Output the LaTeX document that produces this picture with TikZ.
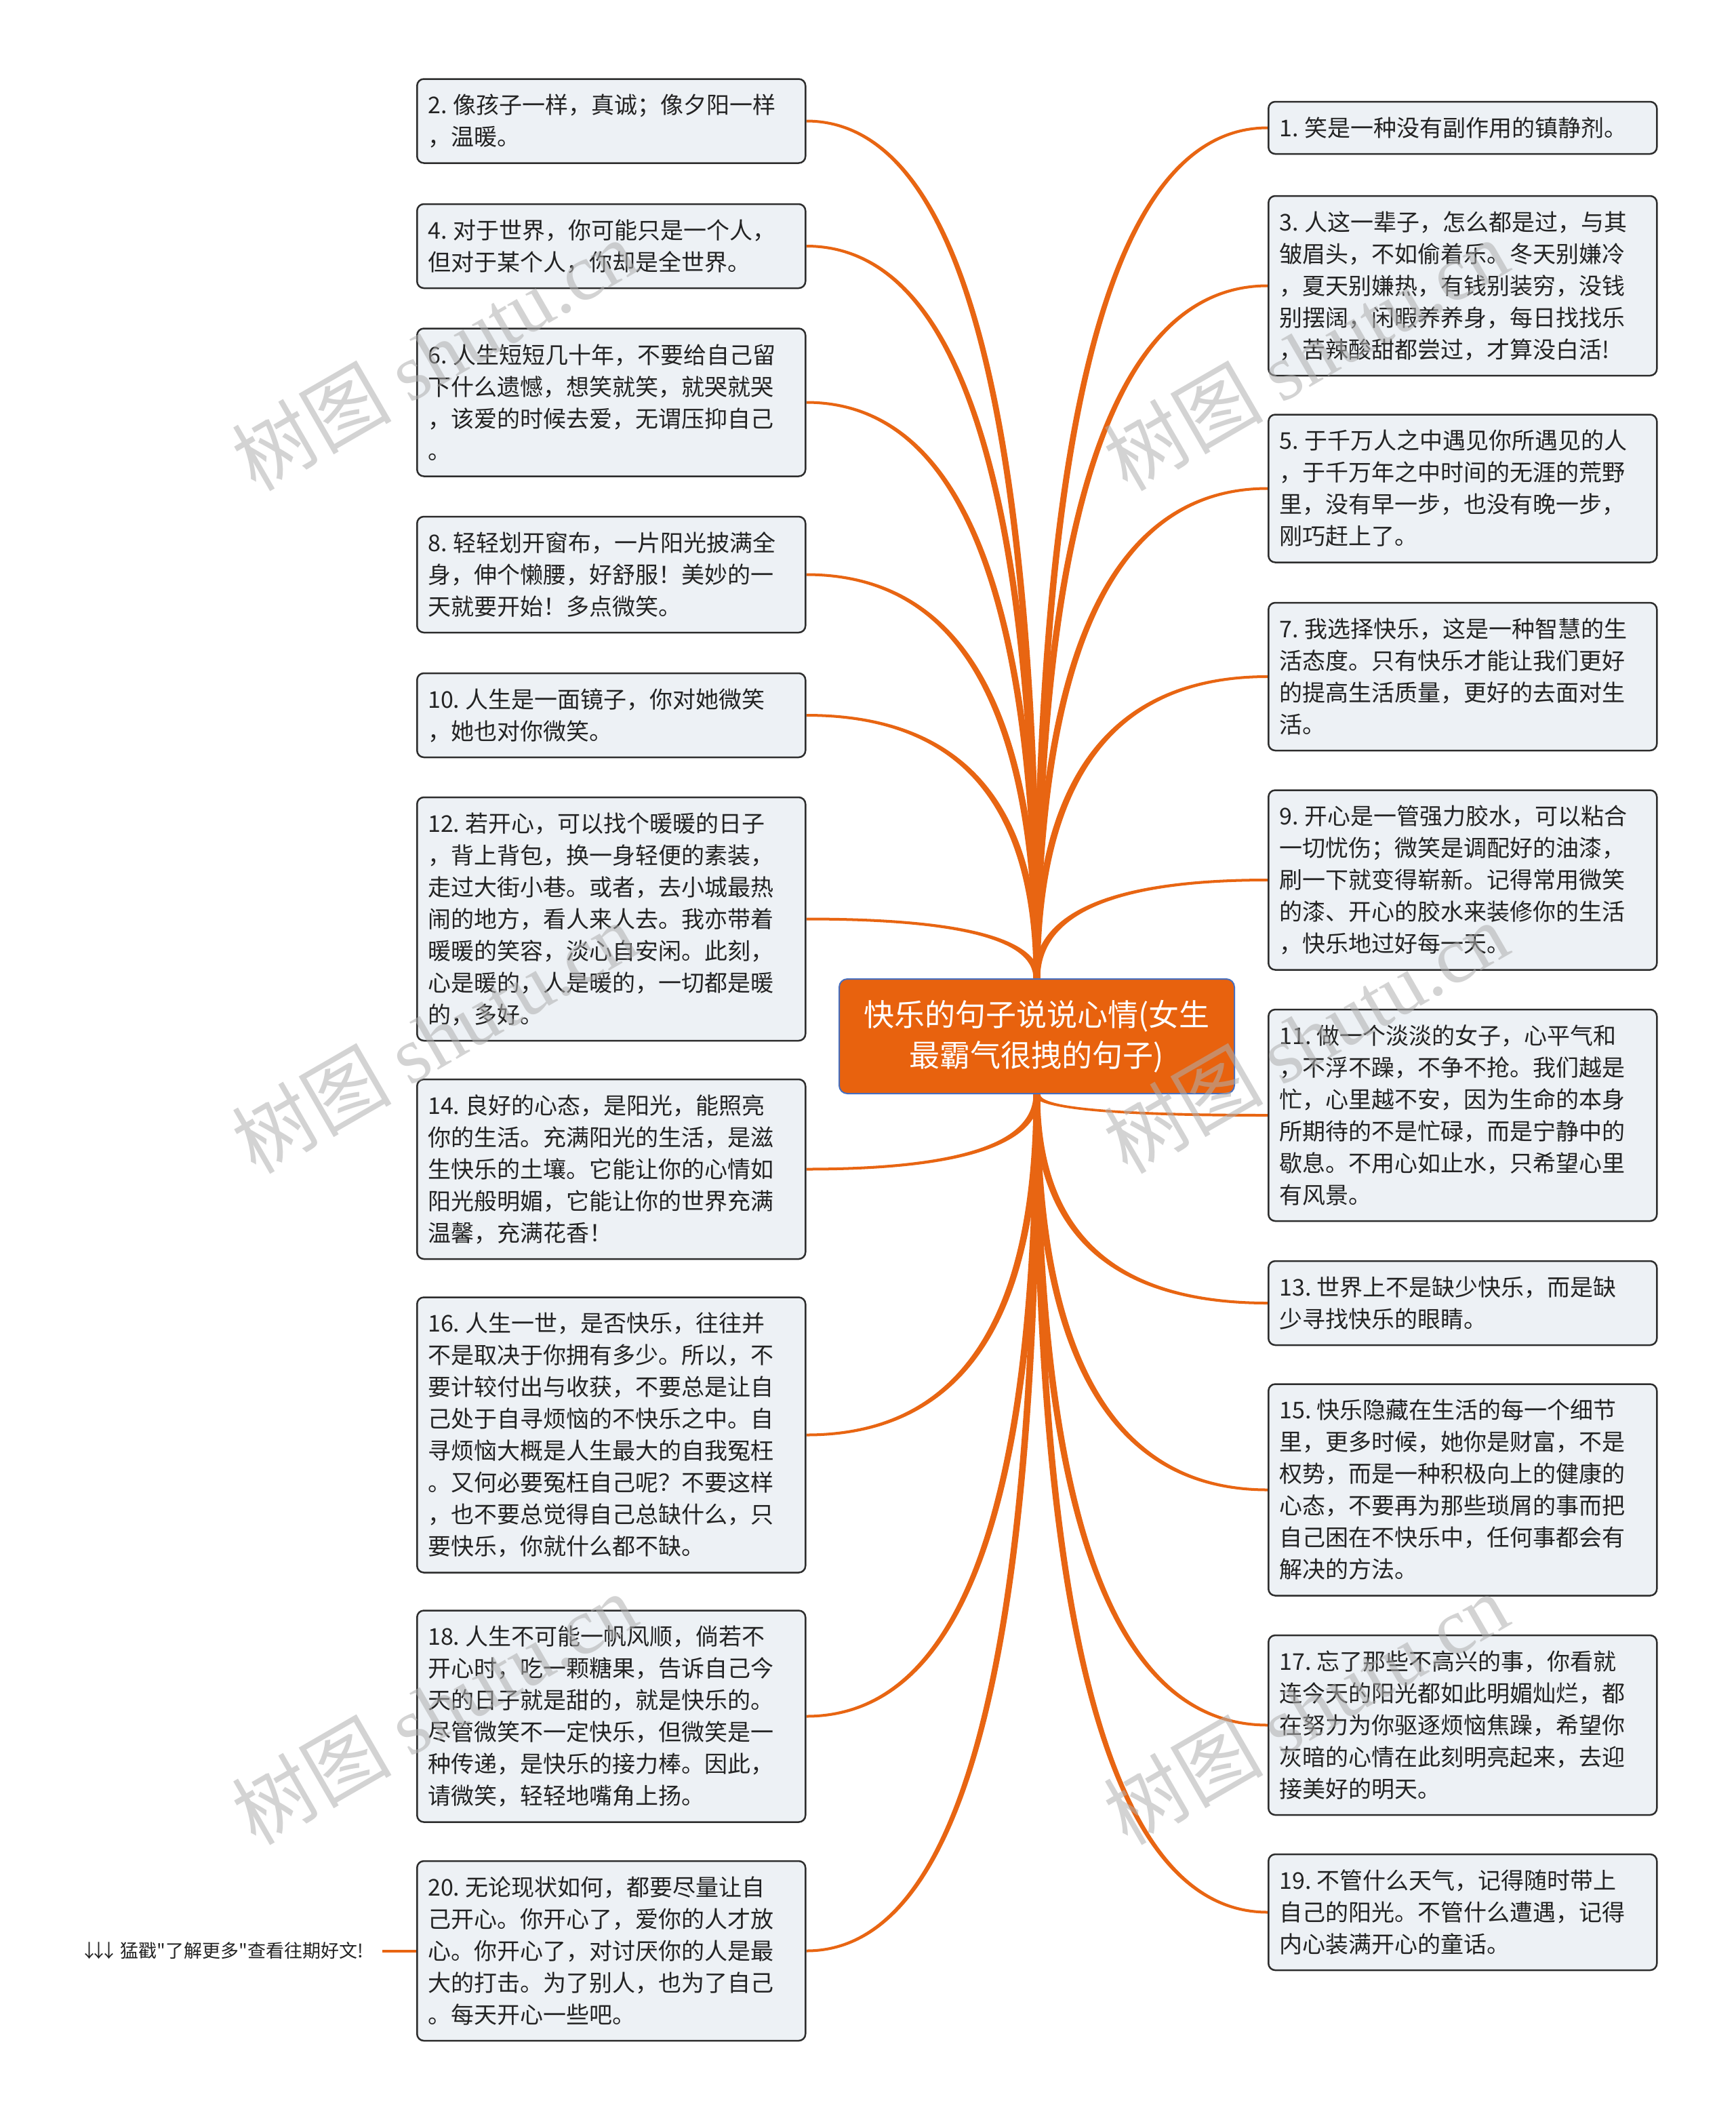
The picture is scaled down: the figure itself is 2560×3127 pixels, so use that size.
\documentclass[tikz,border=0pt]{standalone}
\usepackage{fontspec}
\newfontfamily\cjk{Noto Sans CJK SC}
\newfontfamily\wmserif{Liberation Serif}
\usetikzlibrary{calc}
\pgfdeclarelayer{bg}\pgfdeclarelayer{links}
\pgfsetlayers{bg,links,main}
\definecolor{linkcol}{RGB}{232,101,18}
\definecolor{boxfill}{RGB}{237,241,245}
\definecolor{boxline}{RGB}{45,45,45}
\definecolor{centerfill}{RGB}{232,98,14}
\definecolor{centerline}{RGB}{70,110,190}
\definecolor{textcol}{RGB}{35,35,35}
\definecolor{wmcol}{RGB}{175,175,175}
\newcommand\linkwa{5pt}
\newcommand\linkwb{2pt}
\newcommand\linkk{0.667}
\newcommand\nsp{\kern0.25em}
\newcommand\arr{↓\kern-0.45em}
% #1 start, #2 end, #3 x-sign at start, #4 y-sign at end
\newcommand\conn[4]{%
  \fill[linkcol] let \p1=(#1), \p2=(#2),
    \p3=({\x1+(#3)*\linkwa},\y1), \p4=(\x2,{\y2+(#4)*\linkwb}),
    \p5=({\x1-(#3)*\linkwa},\y1), \p6=(\x2,{\y2-(#4)*\linkwb}) in
    (\p3) .. controls (\x3,{\y3+\linkk*(\y4-\y3)}) and ({\x4+\linkk*(\x3-\x4)},\y4) .. (\p4)
    -- (\p6) .. controls ({\x6+\linkk*(\x5-\x6)},\y6) and (\x5,{\y5+\linkk*(\y6-\y5)}) .. (\p5) -- cycle;}
\tikzset{
  leafbox/.style={draw=boxline, line width=2.5pt, fill=boxfill, rounded corners=10pt,
    text width=541pt, align=left, inner xsep=16pt, inner ysep=0pt, anchor=west,
    font=\cjk\fontsize{34}{47}\selectfont, text=textcol, minimum height={30+47*#1}},
  rootbox/.style={draw=centerline, line width=2pt, fill=centerfill, rounded corners=12pt,
    minimum width=583pt, minimum height=169pt, align=center, text=white,
    font=\cjk\fontsize{45}{60}\selectfont},
  notebox/.style={anchor=east, inner xsep=28pt, font=\cjk\fontsize{27}{32}\selectfont, text=textcol},
  wmark/.style={rotate=30, text=wmcol, opacity=0.55, font=\cjk\fontsize{118}{118}\selectfont}
}
\begin{document}
\begin{tikzpicture}[x=1pt,y=-1pt]
\begin{pgfonlayer}{bg}
\fill[white] (0,0) rectangle (2560,3127);
\end{pgfonlayer}
\useasboundingbox (0,0) rectangle (2560,3127);

\node[rootbox] (c) at (1529.5,1528.5) {快乐的句子说说心情(女生\\最霸气很拽的句子)};

% left column
\node[leafbox=2] (b2) at (614,178.5) {2.\nsp 像孩子一样，真诚；像夕阳一样\\，温暖。};
\node[leafbox=2] (b4) at (614,363) {4.\nsp 对于世界，你可能只是一个人，\\但对于某个人，你却是全世界。};
\node[leafbox=4] (b6) at (614,593.5) {6.\nsp 人生短短几十年，不要给自己留\\下什么遗憾，想笑就笑，就哭就哭\\，该爱的时候去爱，无谓压抑自己\\。};
\node[leafbox=3] (b8) at (614,847.5) {8.\nsp 轻轻划开窗布，一片阳光披满全\\身，伸个懒腰，好舒服！美妙的一\\天就要开始！多点微笑。};
\node[leafbox=2] (b10) at (614,1055) {10.\nsp 人生是一面镜子，你对她微笑\\，她也对你微笑。};
\node[leafbox=7] (b12) at (614,1355.5) {12.\nsp 若开心，可以找个暖暖的日子\\，背上背包，换一身轻便的素装，\\走过大街小巷。或者，去小城最热\\闹的地方，看人来人去。我亦带着\\暖暖的笑容，淡心自安闲。此刻，\\心是暖的，人是暖的，一切都是暖\\的，多好。};
\node[leafbox=5] (b14) at (614,1724.5) {14.\nsp 良好的心态，是阳光，能照亮\\你的生活。充满阳光的生活，是滋\\生快乐的土壤。它能让你的心情如\\阳光般明媚，它能让你的世界充满\\温馨，充满花香！};
\node[leafbox=8] (b16) at (614,2116.5) {16.\nsp 人生一世，是否快乐，往往并\\不是取决于你拥有多少。所以，不\\要计较付出与收获，不要总是让自\\己处于自寻烦恼的不快乐之中。自\\寻烦恼大概是人生最大的自我冤枉\\。又何必要冤枉自己呢？不要这样\\，也不要总觉得自己总缺什么，只\\要快乐，你就什么都不缺。};
\node[leafbox=6] (b18) at (614,2531.5) {18.\nsp 人生不可能一帆风顺，倘若不\\开心时，吃一颗糖果，告诉自己今\\天的日子就是甜的，就是快乐的。\\尽管微笑不一定快乐，但微笑是一\\种传递，是快乐的接力棒。因此，\\请微笑，轻轻地嘴角上扬。};
\node[leafbox=5] (b20) at (614,2877.5) {20.\nsp 无论现状如何，都要尽量让自\\己开心。你开心了，爱你的人才放\\心。你开心了，对讨厌你的人是最\\大的打击。为了别人，也为了自己\\。每天开心一些吧。};

% right column
\node[leafbox=1] (b1) at (1870,188.5) {1.\nsp 笑是一种没有副作用的镇静剂。};
\node[leafbox=5] (b3) at (1870,421.5) {3.\nsp 人这一辈子，怎么都是过，与其\\皱眉头，不如偷着乐。冬天别嫌冷\\，夏天别嫌热，有钱别装穷，没钱\\别摆阔，闲暇养养身，每日找找乐\\，苦辣酸甜都尝过，才算没白活!};
\node[leafbox=4] (b5) at (1870,720.5) {5.\nsp 于千万人之中遇见你所遇见的人\\，于千万年之中时间的无涯的荒野\\里，没有早一步，也没有晚一步，\\刚巧赶上了。};
\node[leafbox=4] (b7) at (1870,998) {7.\nsp 我选择快乐，这是一种智慧的生\\活态度。只有快乐才能让我们更好\\的提高生活质量，更好的去面对生\\活。};
\node[leafbox=5] (b9) at (1870,1298) {9.\nsp 开心是一管强力胶水，可以粘合\\一切忧伤；微笑是调配好的油漆，\\刷一下就变得崭新。记得常用微笑\\的漆、开心的胶水来装修你的生活\\，快乐地过好每一天。};
\node[leafbox=6] (b11) at (1870,1645) {11.\nsp 做一个淡淡的女子，心平气和\\，不浮不躁，不争不抢。我们越是\\忙，心里越不安，因为生命的本身\\所期待的不是忙碌，而是宁静中的\\歇息。不用心如止水，只希望心里\\有风景。};
\node[leafbox=2] (b13) at (1870,1922) {13.\nsp 世界上不是缺少快乐，而是缺\\少寻找快乐的眼睛。};
\node[leafbox=6] (b15) at (1870,2197.5) {15.\nsp 快乐隐藏在生活的每一个细节\\里，更多时候，她你是财富，不是\\权势，而是一种积极向上的健康的\\心态，不要再为那些琐屑的事而把\\自己困在不快乐中，任何事都会有\\解决的方法。};
\node[leafbox=5] (b17) at (1870,2544.5) {17.\nsp 忘了那些不高兴的事，你看就\\连今天的阳光都如此明媚灿烂，都\\在努力为你驱逐烦恼焦躁，希望你\\灰暗的心情在此刻明亮起来，去迎\\接美好的明天。};
\node[leafbox=3] (b19) at (1870,2820.5) {19.\nsp 不管什么天气，记得随时带上\\自己的阳光。不管什么遭遇，记得\\内心装满开心的童话。};

\node[notebox] (note) at (564,2877.5) {\arr\arr↓\kern0.1em 猛戳"了解更多"查看往期好文!};

\begin{pgfonlayer}{links}
% top, left
\conn{c.north}{b2.east}{-1}{-1}
\conn{c.north}{b4.east}{-1}{-1}
\conn{c.north}{b6.east}{-1}{-1}
\conn{c.north}{b8.east}{-1}{-1}
\conn{c.north}{b10.east}{-1}{-1}
\conn{c.north}{b12.east}{-1}{-1}
% top, right
\conn{c.north}{b1.west}{-1}{1}
\conn{c.north}{b3.west}{-1}{1}
\conn{c.north}{b5.west}{-1}{1}
\conn{c.north}{b7.west}{-1}{1}
\conn{c.north}{b9.west}{-1}{1}
% bottom, left
\conn{c.south}{b14.east}{1}{-1}
\conn{c.south}{b16.east}{1}{-1}
\conn{c.south}{b18.east}{1}{-1}
\conn{c.south}{b20.east}{1}{-1}
% bottom, right
\conn{c.south}{b11.west}{1}{1}
\conn{c.south}{b13.west}{1}{1}
\conn{c.south}{b15.west}{1}{1}
\conn{c.south}{b17.west}{1}{1}
\conn{c.south}{b19.west}{1}{1}
\draw[linkcol, line width=4pt] (note.east) -- (b20.west);
\end{pgfonlayer}

% watermarks
\node[wmark] (wm1) at (640,523) {树图 {\wmserif shutu.cn}};
\node[wmark] (wm2) at (1926,523) {树图 {\wmserif shutu.cn}};
\node[wmark] (wm3) at (640,1530) {树图 {\wmserif shutu.cn}};
\node[wmark] (wm4) at (1926,1530) {树图 {\wmserif shutu.cn}};
\node[wmark] (wm5) at (640,2520) {树图 {\wmserif shutu.cn}};
\node[wmark] (wm6) at (1926,2520) {树图 {\wmserif shutu.cn}};
\end{tikzpicture}
\end{document}
